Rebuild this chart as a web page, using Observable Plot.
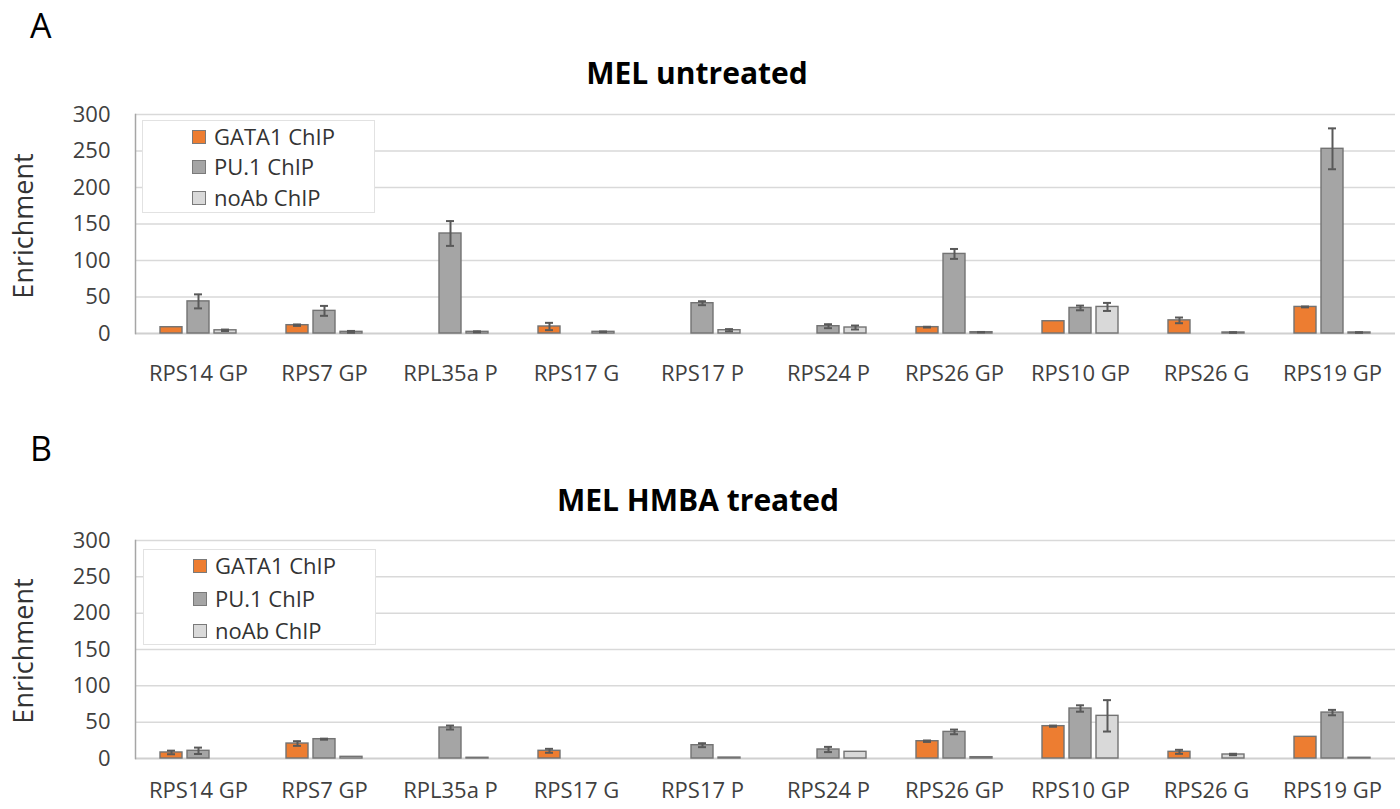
<!DOCTYPE html>
<html>
<head>
<meta charset="utf-8">
<script src="https://cdn.jsdelivr.net/npm/d3@7"></script>
<script src="https://cdn.jsdelivr.net/npm/@observablehq/plot@0.6"></script>
<style>
  html, body { margin: 0; padding: 0; background: #fff; }
  #fig { position: relative; width: 1400px; height: 809px; font-family: "Open Sans", sans-serif; color: #404040; overflow: hidden; }
  .abs { position: absolute; }
  .panel-letter { font-size: 34px; line-height: 1; color: #000; }
  .title { font-size: 30px; font-weight: 700; line-height: 1; color: #000; transform: translateX(-50%); white-space: nowrap; }
  .ylab { font-size: 27px; line-height: 1; color: #333; transform: translate(-50%, -50%) rotate(-90deg); white-space: nowrap; }
  .legend { background: #fff; border: 1px solid #e2e2e2; box-sizing: border-box; }
  .legend .sw { position: absolute; width: 14px; height: 14px; box-sizing: border-box; border: 1px solid #7a7a7a; }
  .legend .lt { position: absolute; font-size: 22px; line-height: 1; white-space: nowrap; color: #333; }
</style>
</head>
<body>
<div id="fig"></div>
<script>
// Gene regions on the x axis
const categories = ["RPS14 GP", "RPS7 GP", "RPL35a P", "RPS17 G", "RPS17 P", "RPS24 P", "RPS26 GP", "RPS10 GP", "RPS26 G", "RPS19 GP"];
const series = ["GATA1 ChIP", "PU.1 ChIP", "noAb ChIP"];
const seriesColors = ["#ED7D31", "#A5A5A5", "#D9D9D9"];
const yTicks = [0, 50, 100, 150, 200, 250, 300];

// MEL untreated: mean enrichment and error (null = not measured)
const gata1Untreated    = [8.6, 11.4, null, 9.6, null, null, 8.7, 16.8, 18, 36.4];
const gata1UntreatedErr = [0, 1, null, 5, null, null, 0.5, 0, 3.9, 0.6];
const pu1Untreated      = [44, 31, 137, null, 41.5, 10, 109, 35, null, 253];
const pu1UntreatedErr   = [9.6, 6.8, 17, null, 2.7, 2.7, 6.8, 3.2, null, 28];
const noAbUntreated     = [4.4, 2.3, 2.3, 2.3, 4.5, 8.2, 1.8, 36.4, 1.4, 1.4];
const noAbUntreatedErr  = [1, 1.2, 0.7, 0.5, 1.5, 2.7, 0.3, 5.5, 0.3, 0.3];

// MEL HMBA treated
const gata1Hmba    = [8.3, 20.6, null, 10.6, null, null, 23.8, 44.5, 9.2, 29.8];
const gata1HmbaErr = [2.5, 3.2, null, 2.7, null, null, 1, 0.8, 2.75, 0];
const pu1Hmba      = [10.6, 26.6, 42.6, null, 18.3, 12.4, 36.6, 68.8, null, 63.2];
const pu1HmbaErr   = [4.4, 0.7, 2.75, null, 2.7, 3.6, 3.2, 4.4, null, 3.7];
const noAbHmba     = [null, 2.3, 1, null, 1.3, 9.2, 1.8, 58.7, 5.5, 1];
const noAbHmbaErr  = [null, 0, 0, null, 0, 0, 0, 21.6, 1, 0];

function buildRows(valueLists, errLists) {
  const rows = [];
  categories.forEach((cat, i) => {
    series.forEach((s, j) => {
      const v = valueLists[j][i];
      if (v == null) return;
      rows.push({cat, series: s, value: v, err: errLists[j][i] || 0});
    });
  });
  return rows;
}

const rowsA = buildRows([gata1Untreated, pu1Untreated, noAbUntreated], [gata1UntreatedErr, pu1UntreatedErr, noAbUntreatedErr]);
const rowsB = buildRows([gata1Hmba, pu1Hmba, noAbHmba], [gata1HmbaErr, pu1HmbaErr, noAbHmbaErr]);

function panel(rows, {height, marginBottom, labelPad}) {
  const withErr = rows.filter(d => d.err > 0);
  return Plot.plot({
    width: 1400,
    height,
    marginLeft: 133,
    marginRight: 3,
    marginTop: 14,
    marginBottom,
    style: {fontFamily: "'Open Sans', sans-serif", fontSize: "22px", color: "#404040", background: "transparent", overflow: "visible"},
    fx: {domain: categories, padding: 0, label: null, axis: "bottom", tickSize: 0, tickPadding: labelPad},
    x: {domain: series, paddingInner: 0.2, paddingOuter: 0.857, axis: null},
    y: {domain: [0, 300], axis: null},
    color: {domain: series, range: seriesColors},
    marks: [
      Plot.ruleY(yTicks.slice(1), {stroke: "#d9d9d9", strokeWidth: 1.5}),
      Plot.ruleY([0], {stroke: "#d0d0d0", strokeWidth: 2}),
      Plot.frame({anchor: "left", facetAnchor: "left", stroke: "#a6a6a6", strokeWidth: 1.5}),
      Plot.axisY(yTicks, {tickSize: 0, tickPadding: 25, fill: "#404040", label: null}),
      Plot.barY(rows, {fx: "cat", x: "series", y: "value", fill: "series", stroke: "#737373", strokeWidth: 1.4}),
      Plot.ruleX(withErr, {fx: "cat", x: "series", y1: d => d.value - d.err, y2: d => d.value + d.err, stroke: "#595959", strokeWidth: 2}),
      Plot.tickY(withErr, {fx: "cat", x: "series", y: d => d.value - d.err, insetLeft: 7, insetRight: 7, stroke: "#595959", strokeWidth: 2}),
      Plot.tickY(withErr, {fx: "cat", x: "series", y: d => d.value + d.err, insetLeft: 7, insetRight: 7, stroke: "#595959", strokeWidth: 2})
    ]
  });
}

const fig = document.getElementById("fig");

function addDiv(cls, text, style) {
  const el = document.createElement("div");
  el.className = "abs " + cls;
  if (text != null) el.textContent = text;
  Object.assign(el.style, style);
  fig.appendChild(el);
  return el;
}

function addChart(svg, top) {
  svg.style.position = "absolute";
  svg.style.left = "0px";
  svg.style.top = top + "px";
  fig.appendChild(svg);
}

function addLegend(left, top, width, height, rowTops) {
  const box = addDiv("legend", null, {left: left + "px", top: top + "px", width: width + "px", height: height + "px"});
  series.forEach((s, i) => {
    const sw = document.createElement("div");
    sw.className = "sw";
    Object.assign(sw.style, {left: "49px", top: (rowTops[i] - 7) + "px", background: seriesColors[i]});
    box.appendChild(sw);
    const lt = document.createElement("div");
    lt.className = "lt";
    lt.textContent = s;
    Object.assign(lt.style, {left: "71px", top: (rowTops[i] - 12) + "px"});
    box.appendChild(lt);
  });
}

// Panel A
addDiv("panel-letter", "A", {left: "30px", top: "8px"});
addDiv("title", "MEL untreated", {left: "697px", top: "58px"});
addChart(panel(rowsA, {height: 300, marginBottom: 67, labelPad: 32}), 100);
addDiv("ylab", "Enrichment", {left: "22px", top: "226px"});
addLegend(142, 120, 233, 93, [16, 46, 77]);

// Panel B
addDiv("panel-letter", "B", {left: "30px", top: "431px"});
addDiv("title", "MEL HMBA treated", {left: "698px", top: "485px"});
addChart(panel(rowsB, {height: 290, marginBottom: 58, labelPad: 24}), 526);
addDiv("ylab", "Enrichment", {left: "22px", top: "651px"});
addLegend(143, 549, 233, 96, [16, 49, 81]);
</script>
</body>
</html>
